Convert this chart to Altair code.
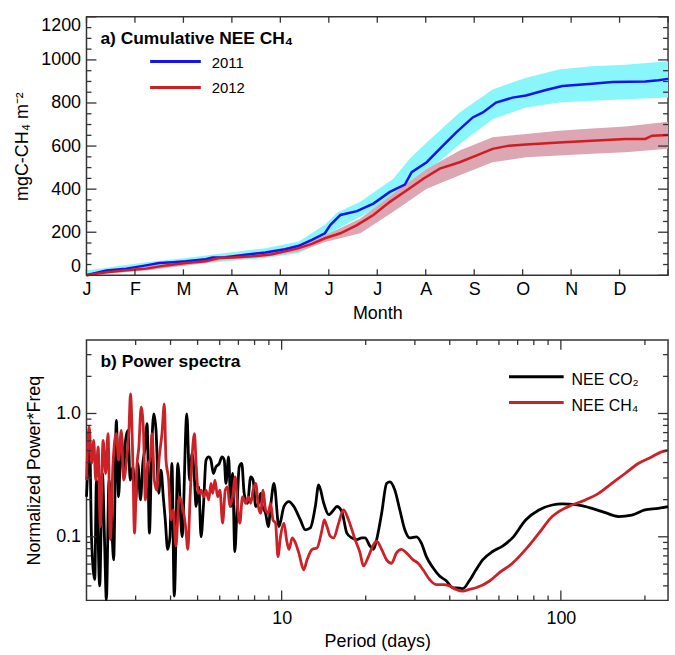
import json
import altair as alt
import pandas as pd

FONT = "Liberation Sans"
AX = "#333333"
BLUE = "#1414f0"
RED = "#d01c22"
CYAN = "#88f6fa"
PINK = "#dca6b2"
RED_B = "#cc2127"

# ---------------- Panel a : cumulative NEE CH4 ----------------
month_labels = ["J", "F", "M", "A", "M", "J", "J", "A", "S", "O", "N", "D"]
month_ticks = list(range(13))

blue_month = [0, 0.41, 0.82, 1.23, 1.50, 1.78, 2.05, 2.46, 2.60, 2.87, 3.28, 3.69, 4.10, 4.38,
              4.65, 4.92, 5.03, 5.24, 5.58, 5.92, 6.26, 6.57, 6.71, 7.02, 7.32, 7.63, 7.97,
              8.18, 8.45, 8.79, 9.07, 9.48, 9.82, 10.43, 10.85, 11.53, 11.80, 12.0]
blue_value = [0, 22, 31, 46, 57, 61, 65, 75, 83, 84, 95, 106, 121, 137,
              165, 195, 233, 280, 298, 333, 387, 421, 479, 525, 594, 664, 733,
              756, 802, 825, 835, 860, 879, 889, 897, 900, 906, 912]

red_month = [0, 0.41, 0.82, 1.23, 1.64, 2.05, 2.46, 2.73, 3.01, 3.42, 3.83, 4.10, 4.38, 4.65,
             4.92, 5.24, 5.58, 5.92, 6.26, 6.61, 6.95, 7.29, 7.70, 8.04, 8.38, 8.72, 9.07,
             9.75, 10.43, 11.12, 11.53, 11.67, 12.0]
red_value = [0, 14, 23, 31, 46, 57, 65, 80, 83, 88, 98, 111, 126, 146,
             172, 195, 233, 280, 341, 395, 448, 495, 525, 556, 587, 602, 607,
             617, 625, 633, 633, 648, 651]

cyan_month = [0, 1.23, 2.05, 2.87, 3.69, 4.38, 4.92, 5.17, 5.65, 6.33, 6.67, 7.02, 7.70, 8.38,
              9.07, 9.75, 10.43, 11.12, 12.0]
cyan_upper = [22, 61, 80, 103, 126, 157, 235, 290, 341, 448, 541, 617, 756, 863,
              917, 955, 971, 978, 994]
cyan_lower = [0, 31, 46, 65, 80, 103, 160, 215, 272, 356, 430, 479, 610, 725,
              779, 802, 810, 817, 825]

pink_month = [0, 1.23, 2.05, 2.87, 3.69, 4.38, 4.92, 5.65, 6.33, 7.02, 7.70, 8.38, 9.07,
              9.75, 10.43, 11.12, 12.0]
pink_upper = [10, 42, 68, 92, 110, 140, 185, 264, 379, 494, 579, 641, 656, 671, 682, 691, 713]
pink_lower = [0, 22, 45, 72, 85, 110, 155, 195, 295, 402, 464, 525, 548, 556, 564, 571, 587]

ya_major = [0, 200, 400, 600, 800, 1000, 1200]
ya_minor = [50, 100, 150, 250, 300, 350, 450, 500, 550, 650, 700, 750, 850, 900, 950,
            1050, 1100, 1150]

years = ["2011", "2012"]
title_a = ["a) Cumulative NEE CH\u2084"]

# ---------------- Panel b : power spectra ----------------
co2_period = [2.00, 2.055, 2.084, 2.141, 2.171, 2.230, 2.280, 2.324, 2.356, 2.409, 2.455, 2.502,
              2.558, 2.606, 2.665, 2.716, 2.760, 2.815, 2.868, 2.932, 2.995, 3.055, 3.121, 3.183,
              3.244, 3.297, 3.360, 3.426, 3.483, 3.549, 3.628, 3.697, 3.768, 3.830, 3.906, 3.981,
              4.047, 4.124, 4.25, 4.40, 4.575, 4.678, 4.778, 4.873, 4.938, 5.048, 5.144, 5.246,
              5.359, 5.479, 5.583, 5.694, 5.816, 5.981, 6.110, 6.231, 6.314, 6.455, 6.578, 6.670,
              6.797, 6.909, 7.047, 7.198, 7.341, 7.542, 7.749, 7.903, 8.073, 8.253, 8.410, 8.528,
              8.762, 8.958, 9.128, 9.386, 9.78, 10.19, 10.62, 11.06, 11.67, 12.16, 12.67, 13.20,
              13.57, 14.15, 14.74, 15.35, 15.77, 16.43, 17.12, 17.84, 18.58, 19.36, 19.89, 20.72,
              21.31, 21.89, 22.81, 23.76, 24.41, 25.43, 26.50, 27.61, 28.76, 30.38, 31.65, 32.98,
              34.84, 36.77, 38.85, 41.04, 43.32, 44.54, 47.01, 49.67, 52.47, 56.94, 61.81, 67.08,
              74.81, 83.44, 93.11, 101.1, 112.7, 129.2, 144.1, 160.7, 179.4, 200.0, 223.1, 242.0]
co2_value = [0.211, 0.535, 0.100, 0.045, 0.288, 0.040, 0.326, 0.084, 0.031, 0.288, 0.155, 0.065,
             0.878, 0.211, 0.686, 0.326, 0.606, 0.729, 0.288, 0.369, 0.187, 0.393, 0.199, 0.393,
             0.535, 0.826, 0.107, 0.535, 0.994, 0.729, 0.225, 0.347, 0.211, 0.137, 0.079, 0.100,
             0.393, 0.033, 0.393, 0.100, 0.994, 0.288, 0.473, 0.288, 0.176, 0.254, 0.100, 0.176,
             0.418, 0.444, 0.418, 0.326, 0.369, 0.393, 0.444, 0.418, 0.271, 0.444, 0.176, 0.326,
             0.076, 0.155, 0.369, 0.393, 0.225, 0.187, 0.306, 0.288, 0.176, 0.187, 0.225, 0.176,
             0.155, 0.121, 0.176, 0.271, 0.121, 0.176, 0.193, 0.176, 0.137, 0.114, 0.118, 0.176,
             0.263, 0.187, 0.151, 0.165, 0.176, 0.160, 0.107, 0.098, 0.095, 0.098, 0.098, 0.084,
             0.079, 0.095, 0.155, 0.271, 0.279, 0.239, 0.165, 0.114, 0.098, 0.100, 0.089, 0.069,
             0.056, 0.048, 0.044, 0.0386, 0.0383, 0.038, 0.044, 0.054, 0.065, 0.076, 0.084, 0.098,
             0.137, 0.165, 0.181, 0.185, 0.182, 0.170, 0.157, 0.146, 0.150, 0.165, 0.170, 0.176]

ch4_period = [2.00, 2.045, 2.084, 2.123, 2.159, 2.202, 2.243, 2.294, 2.343, 2.389, 2.435, 2.489,
              2.558, 2.606, 2.665, 2.716, 2.776, 2.838, 2.875, 2.932, 2.971, 3.030, 3.080, 3.139,
              3.199, 3.251, 3.316, 3.380, 3.435, 3.500, 3.570, 3.645, 3.727, 3.800, 3.853, 3.939,
              4.013, 4.090, 4.181, 4.296, 4.417, 4.528, 4.614, 4.701, 4.778, 4.873, 4.938, 5.036,
              5.144, 5.259, 5.359, 5.479, 5.583, 5.662, 5.769, 5.898, 6.010, 6.145, 6.282, 6.402,
              6.524, 6.670, 6.820, 6.950, 7.082, 7.240, 7.438, 7.604, 7.749, 7.903, 8.073, 8.253,
              8.410, 8.578, 8.762, 8.958, 9.128, 9.311, 9.511, 9.700, 9.909, 10.19, 10.41, 10.62,
              10.91, 11.21, 11.52, 12.00, 12.33, 12.85, 13.38, 13.95, 14.21, 14.53, 14.93, 15.35,
              16.00, 16.66, 17.36, 18.32, 19.09, 19.63, 20.45, 21.31, 21.89, 22.81, 23.76, 24.75,
              25.78, 26.87, 27.99, 29.57, 30.81, 32.10, 33.88, 35.79, 37.81, 39.91, 42.16, 44.54,
              47.01, 49.67, 55.38, 60.11, 67.08, 74.81, 83.44, 93.11, 98.28, 109.6, 122.4, 136.4,
              152.2, 169.8, 189.3, 211.3, 229.3, 242.0]
ch4_value = [0.288, 0.775, 0.393, 0.606, 0.288, 0.535, 0.121, 0.606, 0.326, 0.686, 0.095, 0.393,
             0.686, 0.418, 0.729, 0.288, 0.393, 0.729, 1.442, 0.393, 0.107, 0.369, 0.535, 1.124,
             0.729, 0.199, 0.393, 0.418, 0.686, 0.288, 0.239, 0.444, 0.686, 1.197, 0.418, 0.288,
             0.137, 0.165, 0.084, 0.211, 0.176, 0.121, 0.079, 0.211, 0.444, 0.686, 0.393, 0.225,
             0.239, 0.211, 0.239, 0.199, 0.271, 0.225, 0.288, 0.211, 0.239, 0.129, 0.239, 0.254,
             0.176, 0.211, 0.306, 0.176, 0.129, 0.211, 0.187, 0.211, 0.187, 0.239, 0.271, 0.176,
             0.155, 0.239, 0.165, 0.155, 0.187, 0.137, 0.129, 0.069, 0.101, 0.129, 0.095, 0.079,
             0.098, 0.089, 0.074, 0.054, 0.065, 0.079, 0.081, 0.114, 0.137, 0.121, 0.101, 0.098,
             0.129, 0.165, 0.137, 0.095, 0.074, 0.058, 0.069, 0.086, 0.092, 0.079, 0.065, 0.061,
             0.074, 0.079, 0.074, 0.065, 0.061, 0.054, 0.045, 0.041, 0.041, 0.040, 0.0374, 0.0362,
             0.0374, 0.0386, 0.0436, 0.051, 0.061, 0.079, 0.107, 0.146, 0.160, 0.181, 0.199, 0.225,
             0.271, 0.326, 0.393, 0.444, 0.488, 0.503]

xb_major = [10, 100]
xb_minor = [3, 4, 5, 6, 7, 8, 9, 20, 30, 40, 50, 60, 70, 80, 90, 200]
yb_major = [0.1, 1.0]
yb_minor = [0.04, 0.05, 0.06, 0.07, 0.08, 0.09, 0.2, 0.3, 0.4, 0.5, 0.6, 0.7, 0.8, 0.9, 2, 3]

series_b = ["NEE CO\u2082", "NEE CH\u2084"]
title_b = ["b) Power spectra"]

W = 585
HA = 260
HB = 262


def x_ticks(values, scale, axis, length, height):
    df = pd.DataFrame({"t": values})
    base = alt.Chart(df).mark_rule(color=AX, strokeWidth=1.3)
    xenc = alt.X("t:Q", scale=scale, axis=axis)
    return [
        base.encode(x=xenc, y=alt.value(height), y2=alt.value(height - length)),
        base.encode(x=xenc, y=alt.value(0), y2=alt.value(length)),
    ]


def y_ticks(values, scale, axis, length, width):
    df = pd.DataFrame({"t": values})
    base = alt.Chart(df).mark_rule(color=AX, strokeWidth=1.3)
    yenc = alt.Y("t:Q", scale=scale, axis=axis)
    return [
        base.encode(y=yenc, x=alt.value(0), x2=alt.value(length)),
        base.encode(y=yenc, x=alt.value(width), x2=alt.value(width - length)),
    ]


def text_layer(values, x, y, size, weight="normal"):
    return alt.Chart(pd.DataFrame({"t": values})).mark_text(
        align="left", baseline="alphabetic", font=FONT, fontSize=size,
        fontWeight=weight, color="black"
    ).encode(x=alt.value(x), y=alt.value(y), text="t:N")


def legend_line(label, color, x1, x2, y, width=3):
    return alt.Chart(pd.DataFrame({"t": [label]})).mark_rule(
        color=color, strokeWidth=width
    ).encode(x=alt.value(x1), x2=alt.value(x2), y=alt.value(y))


# ---- panel a ----
xa = alt.Scale(domain=[0, 12], nice=False, zero=False)
ya = alt.Scale(domain=[0, 1200], nice=False, zero=False)
label_expr = json.dumps(month_labels) + "[datum.value]"

axis_xa = alt.Axis(values=month_ticks[:-1], labelExpr=label_expr, title="Month", ticks=False,
                   tickSize=0, domain=False, grid=False, labelPadding=5, titlePadding=6,
                   labelFlush=False)
axis_ya = alt.Axis(values=ya_major, format="d", title="mgC-CH\u2084 m\u207b\u00b2", ticks=False,
                   tickSize=0, domain=False, grid=False, labelPadding=6, titlePadding=9,
                   labelFlush=True)

cyan_df = pd.DataFrame({"month": cyan_month, "lower": cyan_lower, "upper": cyan_upper})
pink_df = pd.DataFrame({"month": pink_month, "lower": pink_lower, "upper": pink_upper})
blue_df = pd.DataFrame({"month": blue_month, "value": blue_value})
red_df = pd.DataFrame({"month": red_month, "value": red_value})

band_c = alt.Chart(cyan_df).mark_area(color=CYAN, opacity=1).encode(
    x=alt.X("month:Q", scale=xa, axis=axis_xa),
    y=alt.Y("lower:Q", scale=ya, axis=axis_ya),
    y2="upper:Q",
)
band_p = alt.Chart(pink_df).mark_area(color=PINK, opacity=1).encode(
    x=alt.X("month:Q", scale=xa, axis=axis_xa),
    y=alt.Y("lower:Q", scale=ya, axis=axis_ya),
    y2="upper:Q",
)
line_b = alt.Chart(blue_df).mark_line(color=BLUE, strokeWidth=2.5).encode(
    x=alt.X("month:Q", scale=xa, axis=axis_xa), y=alt.Y("value:Q", scale=ya, axis=axis_ya))
line_r = alt.Chart(red_df).mark_line(color=RED, strokeWidth=2.5).encode(
    x=alt.X("month:Q", scale=xa, axis=axis_xa), y=alt.Y("value:Q", scale=ya, axis=axis_ya))

layers_a = [band_c, band_p, line_b, line_r]
layers_a += x_ticks(month_ticks, xa, axis_xa, 6, HA)
layers_a += y_ticks(ya_major, ya, axis_ya, 10, W)
layers_a += y_ticks(ya_minor, ya, axis_ya, 5, W)
layers_a += [
    text_layer(title_a, 14, 27, 17.5, "bold"),
    legend_line(years[0], BLUE, 64, 115, 45),
    legend_line(years[1], RED, 64, 115, 71),
    text_layer([years[0]], 126, 51, 15),
    text_layer([years[1]], 126, 77, 15),
]
panel_a = alt.layer(*layers_a).properties(width=W, height=HA)

# ---- panel b ----
xb = alt.Scale(type="log", domain=[2, 242], nice=False, zero=False)
yb = alt.Scale(type="log", domain=[0.0305, 3.95], nice=False, zero=False)

axis_xb = alt.Axis(values=xb_major, format="d", title="Period (days)", ticks=False, tickSize=0,
                   domain=False, grid=False, labelPadding=9, titlePadding=5, labelFlush=False)
axis_yb = alt.Axis(values=yb_major, format=".1f", title="Normalized Power*Freq", ticks=False,
                   tickSize=0, domain=False, grid=False, labelPadding=6, titlePadding=12,
                   labelFlush=False)

co2_df = pd.DataFrame({"period": co2_period, "value": co2_value})
ch4_df = pd.DataFrame({"period": ch4_period, "value": ch4_value})

line_co2 = alt.Chart(co2_df).mark_line(color="black", strokeWidth=2.8, interpolate="monotone").encode(
    x=alt.X("period:Q", scale=xb, axis=axis_xb),
    y=alt.Y("value:Q", scale=yb, axis=axis_yb),
)
line_ch4 = alt.Chart(ch4_df).mark_line(color=RED_B, strokeWidth=2.8, interpolate="monotone").encode(
    x=alt.X("period:Q", scale=xb, axis=axis_xb), y=alt.Y("value:Q", scale=yb, axis=axis_yb))

layers_b = [line_co2, line_ch4]
layers_b += x_ticks(xb_major, xb, axis_xb, 10, HB)
layers_b += x_ticks(xb_minor, xb, axis_xb, 5, HB)
layers_b += y_ticks(yb_major, yb, axis_yb, 10, W)
layers_b += y_ticks(yb_minor, yb, axis_yb, 5, W)
layers_b += [
    text_layer(title_b, 14, 27, 17.5, "bold"),
    legend_line(series_b[0], "black", 425, 480, 37),
    legend_line(series_b[1], RED_B, 425, 480, 63),
    text_layer([series_b[0]], 488, 45, 16),
    text_layer([series_b[1]], 488, 71, 16),
]
panel_b = alt.layer(*layers_b).properties(width=W, height=HB)

chart = alt.vconcat(panel_a, panel_b, spacing=15).properties(
    padding={"left": 13, "top": 13, "right": 0, "bottom": 0}
).configure_view(
    stroke=AX, strokeWidth=1.5
).configure_axis(
    labelFont=FONT, titleFont=FONT, labelFontSize=18, titleFontSize=18,
    titleFontWeight="normal", labelColor="black", titleColor="black"
)

chart.save("out.html", embed_options={"renderer": "svg", "actions": False})
